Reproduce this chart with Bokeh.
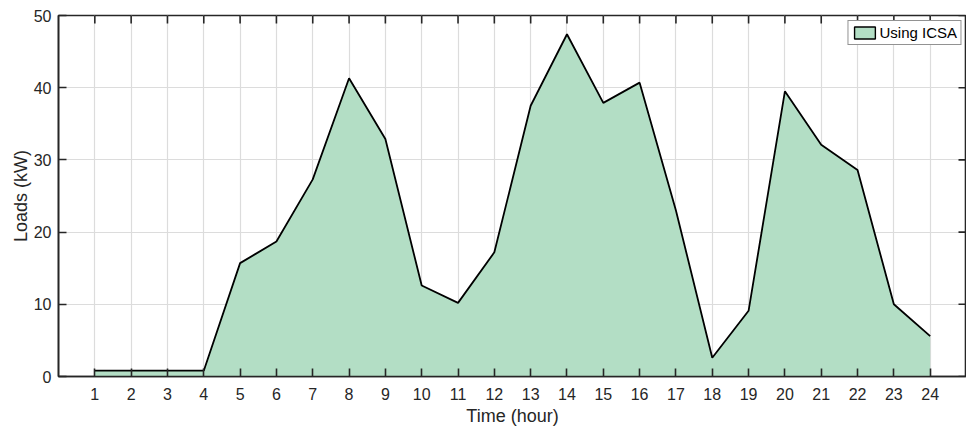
from bokeh.plotting import figure
from bokeh.models import (ColumnDataSource, FixedTicker, Range1d,
                          Legend, LegendItem)
from bokeh.embed import file_html
from bokeh.resources import INLINE

# ---- data ----
hours = list(range(1, 25))
loads = [0.8, 0.8, 0.8, 0.8, 15.7, 18.7, 27.3, 41.3, 32.9, 12.6, 10.2, 17.2,
         37.5, 47.4, 37.9, 40.7, 23.0, 2.6, 9.1, 39.5, 32.1, 28.6, 10.0, 5.6]
series_name = "Using ICSA"
x_ticks = list(range(1, 25))
y_ticks = [0, 10, 20, 30, 40, 50]
x_label = "Time (hour)"
y_label = "Loads (kW)"

FONT = "Liberation Sans"
AX = "#262626"
FILL = "#b3dec5"
LW = 1.6

X0, X1, Y0, Y1 = 0, 25, 0, 50
W, H = 966, 428
BL, BR, BT, BB = 58, 0, 15, 50
TICK = 8  # px

src = ColumnDataSource(dict(x=hours, y=loads, y0=[0] * len(hours)))

p = figure(width=W, height=H, output_backend="svg", toolbar_location=None,
           x_range=Range1d(X0, X1), y_range=Range1d(Y0, Y1),
           min_border_left=BL, min_border_right=BR, min_border_top=BT,
           min_border_bottom=BB)
p.background_fill_color = "white"
p.border_fill_color = "white"
p.outline_line_color = AX
p.outline_line_width = LW

p.varea(x="x", y1="y0", y2="y", source=src, fill_color=FILL)
p.line(x="x", y="y", source=src, line_color="black", line_width=1.8)

# inward ticks on the top and right edges (tick length converted to data units)
dy = TICK * (Y1 - Y0) / (H - BT - BB)
dx = TICK * (X1 - X0) / (W - BL - BR)
p.segment(x0=x_ticks, y0=[Y1] * len(x_ticks), x1=x_ticks,
          y1=[Y1 - dy] * len(x_ticks), line_color=AX, line_width=LW)
p.segment(x0=[X1] * len(y_ticks), y0=y_ticks, x1=[X1 - dx] * len(y_ticks),
          y1=y_ticks, line_color=AX, line_width=LW)

# legend proxy (NaN data, never drawn)
proxy_src = ColumnDataSource(dict(l=[float("nan")], r=[float("nan")],
                                  t=[float("nan")], b=[float("nan")]))
proxy = p.quad(left="l", right="r", top="t", bottom="b", source=proxy_src,
               fill_color=FILL, line_color="black", line_width=1.4)

def style_axis(ax):
    ax.axis_line_color = AX
    ax.axis_line_width = LW
    ax.major_tick_line_color = AX
    ax.major_tick_line_width = LW
    ax.major_tick_in = TICK
    ax.major_tick_out = 0
    ax.minor_tick_line_color = None
    ax.major_label_text_font = FONT
    ax.major_label_text_color = AX
    ax.axis_label_text_font = FONT
    ax.axis_label_text_color = AX
    ax.axis_label_text_font_style = "normal"
    ax.major_label_text_font_size = "16px"
    ax.axis_label_text_font_size = "18px"

xax = p.xaxis[0]
xax.ticker = FixedTicker(ticks=x_ticks)
xax.axis_label = x_label
style_axis(xax)
xax.major_label_standoff = 11
xax.axis_label_standoff = 3

yax = p.yaxis[0]
yax.ticker = FixedTicker(ticks=y_ticks)
yax.axis_label = y_label
style_axis(yax)
yax.major_label_standoff = 7
yax.axis_label_standoff = 0

p.xgrid.ticker = FixedTicker(ticks=x_ticks)
p.ygrid.ticker = FixedTicker(ticks=y_ticks)
for g in (p.xgrid[0], p.ygrid[0]):
    g.grid_line_color = "#dcdcdc"
    g.grid_line_width = 1.2

legend = Legend(items=[LegendItem(label=series_name, renderers=[proxy])],
                location="top_right")
legend.margin = 5
legend.padding = 3
legend.spacing = 0
legend.glyph_width = 26
legend.glyph_height = 15
legend.label_height = 15
legend.label_standoff = 2
legend.label_text_font = FONT
legend.label_text_font_size = "15px"
legend.label_text_color = "black"
legend.border_line_color = AX
legend.border_line_width = LW
legend.background_fill_color = "white"
legend.background_fill_alpha = 1
p.add_layout(legend, "center")

open("out.html", "w").write(file_html(p, INLINE))
